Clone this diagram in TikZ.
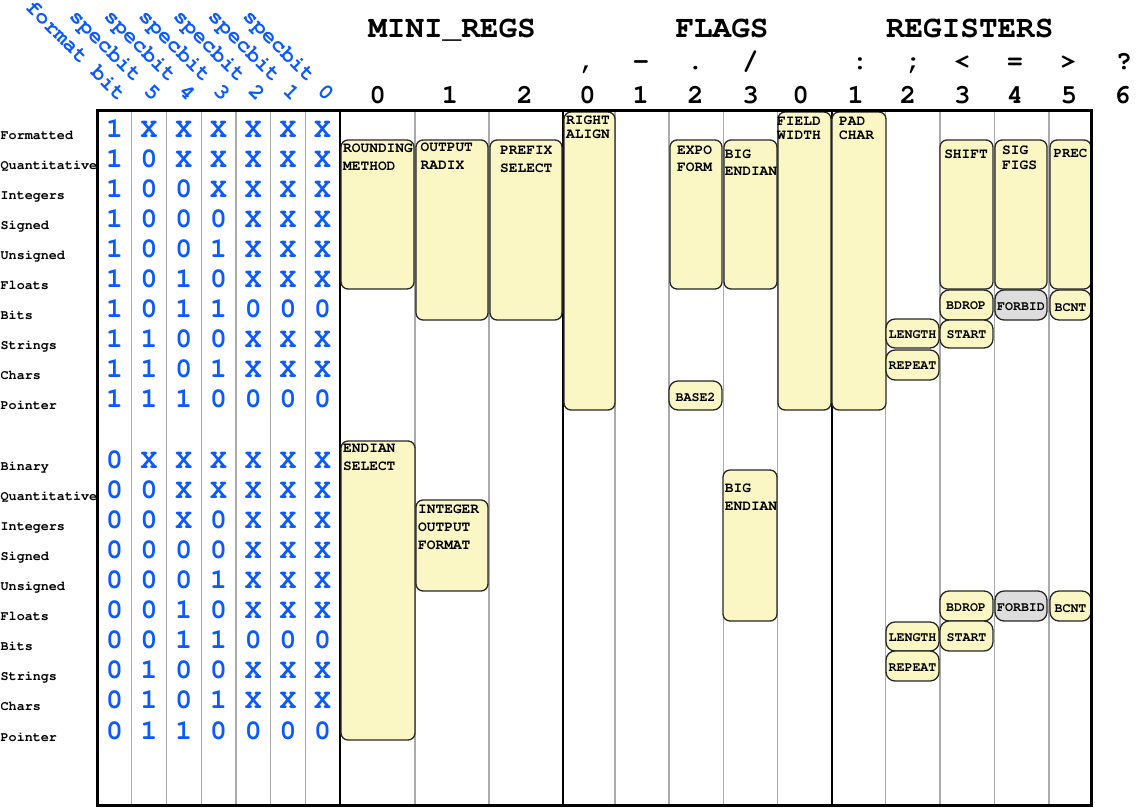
\documentclass[tikz,border=0pt]{standalone}
\usepackage[T1,TU]{fontenc}
\usepackage{xcolor}
\definecolor{bitblue}{RGB}{10,90,255}
\definecolor{boxfill}{RGB}{250,247,197}
\definecolor{gridgray}{RGB}{170,170,170}
\definecolor{forbidgray}{RGB}{221,221,221}
\newcommand\cou[1]{\fontencoding{T1}\fontfamily{pcr}\fontseries{b}\fontshape{n}\fontsize{#1}{#1}\selectfont}
\tikzset{
 bitnode/.style={font=\cou{28}, text=bitblue, inner sep=0pt, anchor=base},
 rowlabel/.style={font=\cou{13.4}, inner sep=0pt, anchor=base west},
 rothead/.style={font=\cou{22}, text=bitblue, inner sep=0pt, anchor=base east, rotate=-45},
 titletext/.style={font=\cou{31}, inner sep=0pt, anchor=base},
 coltext/.style={font=\cou{27}, inner sep=0pt, anchor=base},
 ybox/.style={draw=black!85, line width=1.3pt, fill=boxfill, rounded corners=7pt},
 ypill/.style={ybox, rounded corners=9pt},
 gpill/.style={ypill, fill=forbidgray},
 boxtext/.style={font=\cou{14.5}, inner sep=0pt, anchor=base west},
 pilltext/.style={font=\cou{13.3}, inner sep=0pt, anchor=base},
 gridline/.style={draw=gridgray, line width=1.5pt},
 sepline/.style={draw=black, line width=2pt},
 frameline/.style={draw=black, line width=3pt},
}
\begin{document}
\begin{tikzpicture}[x=1pt,y=-1pt]
\useasboundingbox (0,0) rectangle (1137,807);
% titles
\node[titletext] (tmini) at (452,37) {MINI\_REGS};
\node[titletext] (tflags) at (722,37) {FLAGS};
\node[titletext] (tregs) at (969.7,37) {REGISTERS};
% column numbers
\foreach \x/\d [count=\k] in {377.8/0,450/1,524.7/2,587.5/0,640.8/1,695.5/2,750.8/3,800.8/0,855.8/1,908/2,962.5/3,1015/4,1069/5,1122.5/6}
  \node[coltext] (cn\k) at (\x,103) {\d};
% symbols
\node[coltext] (cs1) at (587,69) {,};
\node[coltext] (cs2) at (641,69) {-};
\node[coltext] (cs3) at (695.5,69) {.};
\node[coltext] (cs4) at (750.5,69) {/};
\node[coltext] (cs5) at (860,69) {:};
\node[coltext] (cs6) at (914,69) {;};
\node[coltext] (cs7) at (962,69) {<};
\node[coltext] (cs8) at (1015,69) {=};
\node[coltext] (cs9) at (1068.5,69) {>};
\node[coltext] (cs10) at (1124,69) {?};
% rotated headers
\foreach \t [count=\c from 0] in {format bit,specbit 5,specbit 4,specbit 3,specbit 2,specbit 1,specbit 0}
  \node[rothead] (h\c) at (118+34.7*\c,102) {\t};
% grid
\foreach \x in {131.7,166.3,201.3,236,270.7,305.7,415,489,615,669,723.3,777.7,885.7,940,994.3,1049}
  \draw[gridline] (\x,110) -- (\x,805);
\foreach \x in {340,563,832}
  \draw[sepline] (\x,110) -- (\x,805);
% rows top
\foreach \lbl/\bits [count=\r from 0] in {Formatted/{1,X,X,X,X,X,X},Quantitative/{1,0,X,X,X,X,X},Integers/{1,0,0,X,X,X,X},Signed/{1,0,0,0,X,X,X},Unsigned/{1,0,0,1,X,X,X},Floats/{1,0,1,0,X,X,X},Bits/{1,0,1,1,0,0,0},Strings/{1,1,0,0,X,X,X},Chars/{1,1,0,1,X,X,X},Pointer/{1,1,1,0,0,0,0}}{
  \node[rowlabel] (lbl\r) at (0.5,139+30.1*\r) {\lbl};
  \foreach \b [count=\c from 0] in \bits
    \node[bitnode] (bit\r-\c) at (114.4+34.7*\c,137+30.1*\r) {\b};
}
% rows bottom
\foreach \lbl/\bits [count=\r from 11] in {Binary/{0,X,X,X,X,X,X},Quantitative/{0,0,X,X,X,X,X},Integers/{0,0,X,0,X,X,X},Signed/{0,0,0,0,X,X,X},Unsigned/{0,0,0,1,X,X,X},Floats/{0,0,1,0,X,X,X},Bits/{0,0,1,1,0,0,0},Strings/{0,1,0,0,X,X,X},Chars/{0,1,0,1,X,X,X},Pointer/{0,1,1,0,0,0,0}}{
  \node[rowlabel] (lbl\r) at (0.5,139+30.1*\r) {\lbl};
  \foreach \b [count=\c from 0] in \bits
    \node[bitnode] (bit\r-\c) at (114.4+34.7*\c,137+30.1*\r) {\b};
}
% big boxes (top group)
\draw[ybox] (341,140) rectangle (414,289);
\node[boxtext] (rm1) at (343,152) {ROUNDING};
\node[boxtext] (rm2) at (343,170) {METHOD};
\draw[ybox] (416,140) rectangle (488,320);
\node[boxtext] (or1) at (420.5,151) {OUTPUT};
\node[boxtext] (or2) at (420.5,169) {RADIX};
\draw[ybox] (490,140) rectangle (562,320);
\node[boxtext] (ps1) at (500,154) {PREFIX};
\node[boxtext] (ps2) at (500,172) {SELECT};
\draw[ybox] (564,112) rectangle (615,410);
\node[boxtext] (ra1) at (566,124) {RIGHT};
\node[boxtext] (ra2) at (566,138) {ALIGN};
\draw[ybox] (670,140) rectangle (722,289);
\node[boxtext] (ef1) at (677,154) {EXPO};
\node[boxtext] (ef2) at (677,171) {FORM};
\draw[ybox] (724,140) rectangle (777,289);
\node[boxtext] (be1) at (724.7,158) {BIG};
\node[boxtext] (be2) at (724.7,175) {ENDIAN};
\draw[ypill] (669,381) rectangle (722,410);
\node[pilltext] (b2) at (695.5,401) {BASE2};
\draw[ybox] (778,112) rectangle (831,410);
\node[boxtext] (fw1) at (777,125) {FIELD};
\node[boxtext] (fw2) at (777,139) {WIDTH};
\draw[ybox] (832,112) rectangle (886,410);
\node[boxtext] (pc1) at (839,125) {PAD};
\node[boxtext] (pc2) at (839,139) {CHAR};
\draw[ybox] (940,140) rectangle (993,289);
\node[pilltext, font=\cou{14.5}] (sh) at (966,158) {SHIFT};
\draw[ybox] (995,140) rectangle (1047,289);
\node[boxtext] (sf1) at (1002,154) {SIG};
\node[boxtext] (sf2) at (1002,169) {FIGS};
\draw[ybox] (1050,140) rectangle (1091,289);
\node[pilltext, font=\cou{14}] (pr) at (1070.5,157) {PREC};
% pills (top group)
\draw[ypill] (940,290) rectangle (993,320);
\node[pilltext] (bd1) at (966,309) {BDROP};
\draw[gpill] (995,290) rectangle (1047,320);
\node[pilltext] (fb1) at (1021,310) {FORBID};
\draw[ypill] (1050,290) rectangle (1091,320);
\node[pilltext] (bc1) at (1070.5,311) {BCNT};
\draw[ypill] (886,319) rectangle (939,348);
\node[pilltext] (le1) at (912.5,338) {LENGTH};
\draw[ypill] (940,320) rectangle (993,348);
\node[pilltext] (st1) at (966.5,338) {START};
\draw[ypill] (886,350) rectangle (939,380);
\node[pilltext] (re1) at (912.5,369) {REPEAT};
% bottom group
\draw[ybox] (341,441) rectangle (415,740);
\node[boxtext] (es1) at (343,452) {ENDIAN};
\node[boxtext] (es2) at (343,470) {SELECT};
\draw[ybox] (416,500) rectangle (488,591);
\node[boxtext] (io1) at (418,513) {INTEGER};
\node[boxtext] (io2) at (418,531) {OUTPUT};
\node[boxtext] (io3) at (418,549) {FORMAT};
\draw[ybox] (723,470) rectangle (777,621);
\node[boxtext] (bb1) at (724.7,492) {BIG};
\node[boxtext] (bb2) at (724.7,510) {ENDIAN};
\draw[ypill] (940,591) rectangle (993,621);
\node[pilltext] (bd2) at (966,611) {BDROP};
\draw[gpill] (995,591) rectangle (1047,621);
\node[pilltext] (fb2) at (1021,611) {FORBID};
\draw[ypill] (1050,591) rectangle (1091,621);
\node[pilltext] (bc2) at (1070.5,612) {BCNT};
\draw[ypill] (886,622) rectangle (939,651);
\node[pilltext] (le2) at (912.5,641) {LENGTH};
\draw[ypill] (940,621) rectangle (993,651);
\node[pilltext] (st2) at (966.5,641) {START};
\draw[ypill] (886,651) rectangle (939,681);
\node[pilltext] (re2) at (912.5,671) {REPEAT};
% frame
\draw[frameline] (97.7,110) rectangle (1091.7,805);
\end{tikzpicture}
\end{document}
